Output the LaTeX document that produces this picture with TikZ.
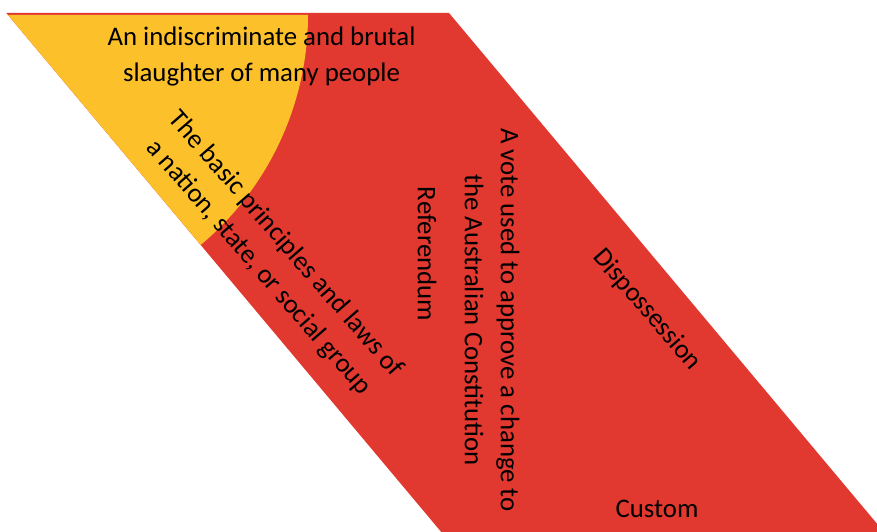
\documentclass[tikz,border=0pt]{standalone}
\usepackage{fontspec}
\setmainfont{Carlito}
\definecolor{redfill}{HTML}{E1382F}
\definecolor{yellowfill}{HTML}{FCC12A}
\begin{document}
\begin{tikzpicture}[x=1pt,y=1pt,
  lbl/.style={font=\fontsize{26.8}{36}\selectfont, align=center, inner sep=0pt, text=black}]
\useasboundingbox (0,0) rectangle (877,532);
\begin{scope}
\clip (0,0) rectangle (877,532);
\fill[redfill] (6.3,519) -- (449,519) -- ++(502.8,-600) -- ++(-442.7,0) -- cycle;
\fill[yellowfill] (8,517) -- (308,517) arc[start angle=0, end angle=-50.03, radius=300pt] -- cycle;
\end{scope}
\node[lbl] (massacre) at (261.5,475) {An indiscriminate and brutal\\slaughter of many people};
\node[lbl, rotate=-49] (constitution) at (272,276) {The basic principles and laws of\\a nation, state, or social group};
\node[lbl, rotate=-90] (referendum) at (427,278) {Referendum};
\node[lbl, rotate=-90] (vote) at (492,212) {A vote used to approve a change to\\the Australian Constitution};
\node[lbl, rotate=-49] (dispossession) at (647,222) {Dispossession};
\node[lbl, anchor=base] (custom) at (657,14) {Custom};
\end{tikzpicture}
\end{document}
